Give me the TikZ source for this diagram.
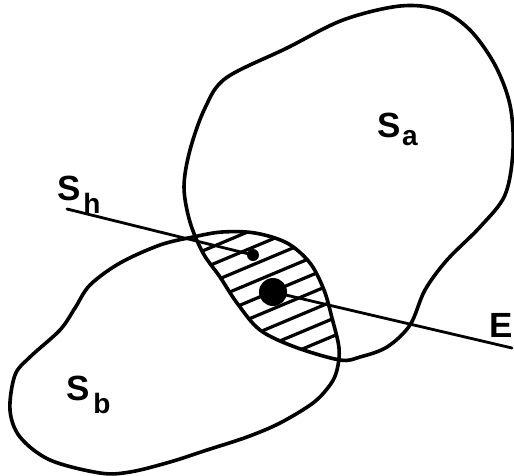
\documentclass[tikz,border=0pt]{standalone}
\usepackage{fontspec}
\setmainfont{Liberation Sans}
\begin{document}
\begin{tikzpicture}[x=1pt,y=-1pt,
  outline/.style={line width=3.6pt, line join=round},
  hatchline/.style={line width=3.2pt},
  axisline/.style={line width=2.8pt, line cap=round},
  bigletter/.style={font=\fontsize{35}{35}\selectfont\bfseries, inner sep=0pt},
  subletter/.style={font=\fontsize{28}{28}\selectfont\bfseries, inner sep=0pt},
  dotnode/.style={circle, fill=black, inner sep=0pt}]
\useasboundingbox (0,0) rectangle (514,475);
% hatching in the overlap
\begin{scope}
\clip plot[smooth cycle, tension=0.55] coordinates {(226,78) (287,48) (343,20) (400,6) (440,10) (470,30) (495,65) (510,105) (513,150) (505,195) (480,227) (447,260) (425,290) (410,325) (387,347) (360,357) (340,360) (295,347) (260,330) (237,303) (220,277) (203,253) (190,222) (184,187) (190,150) (205,108)};
\clip plot[smooth cycle, tension=0.55] coordinates {(193,237) (222,232) (255,233) (287,243) (310,263) (324,290) (332,318) (339,348) (337,370) (330,385) (313,403) (280,423) (247,437) (207,450) (170,462) (130,472) (100,473) (50,460) (20,437) (10,410) (15,375) (30,357) (60,330) (75,308) (90,285) (120,263) (160,245)};
\foreach \c in {336,353.5,...,477} \draw[hatchline] (150,{\c-63}) -- (460,{\c-193.2});
\end{scope}
% Sa
\draw[outline] plot[smooth cycle, tension=0.55] coordinates {(226,78) (287,48) (343,20) (400,6) (440,10) (470,30) (495,65) (510,105) (513,150) (505,195) (480,227) (447,260) (425,290) (410,325) (387,347) (360,357) (340,360) (295,347) (260,330) (237,303) (220,277) (203,253) (190,222) (184,187) (190,150) (205,108)};
% Sb
\draw[outline] plot[smooth cycle, tension=0.55] coordinates {(193,237) (222,232) (255,233) (287,243) (310,263) (324,290) (332,318) (339,348) (337,370) (330,385) (313,403) (280,423) (247,437) (207,450) (170,462) (130,472) (100,473) (50,460) (20,437) (10,410) (15,375) (30,357) (60,330) (75,308) (90,285) (120,263) (160,245)};
% dots and lines
\node[dotnode, minimum size=12pt] (smalldot) at (253,255) {};
\node[dotnode, minimum size=28pt] (bigdot) at (273,292) {};
\coordinate (shend) at (67,209);
\coordinate (eend) at (512,348);
\draw[axisline] (shend) -- (smalldot.center);
\draw[axisline] (bigdot.center) -- (eend);
% labels
\node[bigletter] (Sa) at (389,125) {S};
\node[subletter] (Sasub) at (410,138) {a};
\node[bigletter] (Sh) at (69,188) {S};
\node[subletter] (Shsub) at (92,203) {h};
\node[bigletter] (E) at (501,325) {E};
\node[bigletter] (Sb) at (78,388) {S};
\node[subletter] (Sbsub) at (102,403) {b};
\end{tikzpicture}
\end{document}
